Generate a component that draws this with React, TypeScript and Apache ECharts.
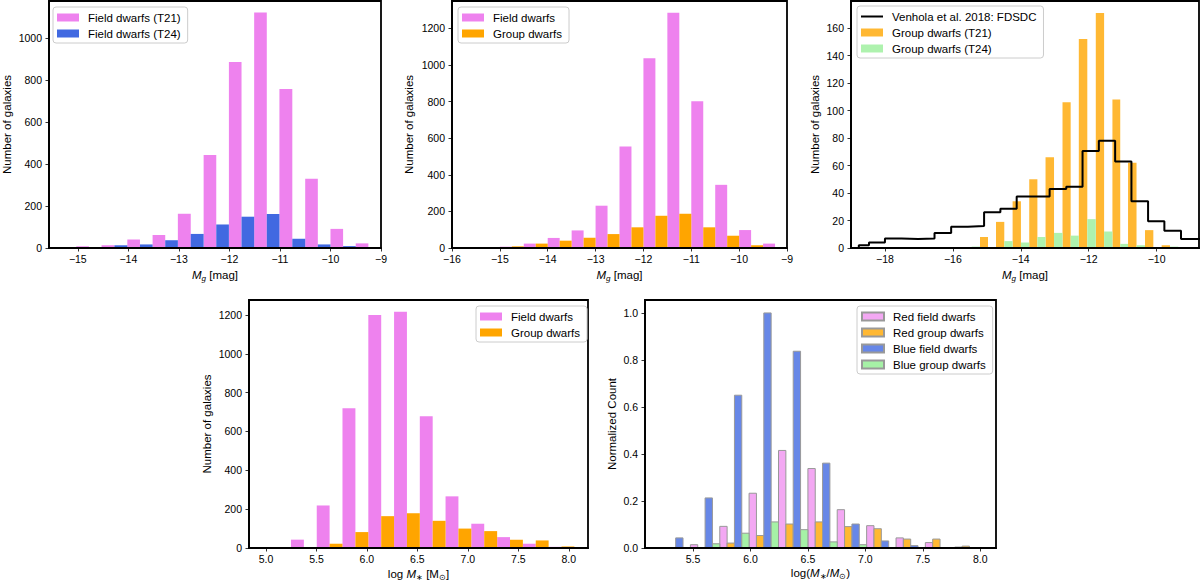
import React, { useEffect, useRef } from "react";
import * as echarts from "echarts";

// ---------- Panel 1: field dwarfs, g-band magnitude (T21 vs T24) ----------
const magEdgesA = [-15.03, -14.53, -14.02, -13.52, -13.02, -12.51, -12.01, -11.51, -11.01, -10.5, -10.0, -9.5, -9.0];
const fieldT21Counts = [8, 13, 40, 62, 163, 443, 886, 1121, 757, 330, 91, 22];
const fieldT24Counts = [0, 13, 17, 37, 67, 112, 149, 162, 44, 17, 9, 0];

// ---------- Panel 2: field vs group dwarfs, g-band magnitude ----------
const magEdgesB = [-15.0, -14.5, -14.0, -13.5, -13.0, -12.5, -12.0, -11.5, -11.0, -10.5, -10.0, -9.5, -9.0];
const fieldMagCounts = [7, 24, 55, 96, 231, 555, 1036, 1285, 802, 345, 98, 24];
const groupMagCounts = [9, 24, 40, 56, 76, 113, 176, 187, 113, 67, 15, 0];

// ---------- Panel 3: group dwarfs vs the Fornax Deep Survey dwarf catalogue ----------
const magEdgesC = [-15.69, -15.2, -14.73, -14.24, -13.75, -13.27, -12.77, -12.29, -11.79, -11.3, -10.84, -10.34, -9.85, -9.36];
const groupT21Counts = [0, 8, 19, 34, 50, 66, 106, 152, 171, 108, 62, 13, 2];
const groupT24Counts = [1, 0, 5, 4, 8, 11, 9, 21, 12, 3, 2, 0, 1];
const fdsdcEdges = [-18.77, -18.47, -18.0, -17.51, -17.02, -16.54, -16.05, -15.56, -15.08, -14.6, -14.12, -13.63, -13.15, -12.66, -12.18, -11.7, -11.22, -10.74, -10.25, -9.77, -9.28, -8.5];
const fdsdcCounts = [2, 4, 7, 6.5, 7, 11, 15.5, 16, 26, 28.5, 37.5, 37.5, 43, 44.5, 70.5, 78, 63, 34, 19.5, 12.5, 6.5];

// ---------- Panel 4: stellar mass, field vs group ----------
const massEdgesD = [4.993, 5.248, 5.503, 5.758, 6.014, 6.269, 6.524, 6.779, 7.034, 7.29, 7.545, 7.8, 8.055];
const fieldMassCounts = [0, 43, 219, 719, 1200, 1217, 679, 266, 125, 56, 22, 6];
const groupMassCounts = [0, 0, 22, 82, 164, 179, 140, 100, 87, 42, 39, 8];

// ---------- Panel 5: normalised stellar mass, red / blue split ----------
const massEdgesE = [5.221, 5.477, 5.733, 5.988, 6.244, 6.5, 6.755, 7.011, 7.267, 7.522, 7.778, 8.034];
const redFieldNorm = [0, 0.014, 0.092, 0.233, 0.415, 0.338, 0.163, 0.095, 0.043, 0.023, 0.004];
const redGroupNorm = [0, 0, 0.021, 0.053, 0.102, 0.111, 0.091, 0.082, 0.038, 0.038, 0.008];
const blueFieldNorm = [0.043, 0.213, 0.65, 1.0, 0.837, 0.361, 0.102, 0.03, 0.01, 0, 0];
const blueGroupNorm = [0, 0.018, 0.063, 0.111, 0.078, 0.026, 0.014, 0, 0, 0, 0];

// Tick positions
const ticksMagA = [-15, -14, -13, -12, -11, -10, -9];
const ticksMagB = [-16, -15, -14, -13, -12, -11, -10, -9];
const ticksMagC = [-18, -16, -14, -12, -10];
const ticksMassD = [5.0, 5.5, 6.0, 6.5, 7.0, 7.5, 8.0];
const ticksMassE = [5.5, 6.0, 6.5, 7.0, 7.5, 8.0];
const ticksCount1000 = [0, 200, 400, 600, 800, 1000];
const ticksCount1200 = [0, 200, 400, 600, 800, 1000, 1200];
const ticksCount160 = [0, 20, 40, 60, 80, 100, 120, 140, 160];
const ticksNorm = [0, 0.2, 0.4, 0.6, 0.8, 1.0];

const FONT = "'Liberation Sans', Arial, Helvetica, sans-serif";

const VIOLET = "#ee82ee";
const ROYAL = "#4169e1";
const ORANGE = "#ffa500";
const ORANGE_A = "#ffb833";
const GREEN_A = "#aef2ae";
const VIOLET_A = "#f3a8f3";
const ROYAL_A = "#6787e7";
const GREEN_B = "#a6f1a6";

const minusFmt = (v: number) => (v < 0 ? "\u2212" + Math.abs(v) : String(v));
const oneDec = (v: number) => v.toFixed(1);

type BarStyle = { color: string; borderColor?: string; borderWidth?: number };

// One histogram dataset drawn as side-by-side slot `slot` out of `slots` within each bin
function histSeries(name: string, grid: number, edges: number[], counts: number[], slot: number, slots: number, style: BarStyle) {
  const data: number[][] = [];
  counts.forEach((c, i) => {
    if (c <= 0) return;
    const w = edges[i + 1] - edges[i];
    data.push([edges[i] + (w * slot) / slots, edges[i] + (w * (slot + 1)) / slots, c]);
  });
  return {
    type: "custom",
    name,
    xAxisIndex: grid,
    yAxisIndex: grid,
    itemStyle: { color: style.color, borderColor: style.borderColor || style.color, borderWidth: style.borderWidth || 0 },
    encode: { x: [0, 1], y: 2 },
    data,
    z: 2,
    renderItem: (_params: any, api: any) => {
      const p0 = api.coord([api.value(0), 0]);
      const p1 = api.coord([api.value(1), api.value(2)]);
      return {
        type: "rect",
        shape: { x: p0[0], y: p1[1], width: p1[0] - p0[0], height: p0[1] - p1[1] },
        style: {
          fill: style.color,
          stroke: style.borderWidth ? style.borderColor : null,
          lineWidth: style.borderWidth || 0,
        },
      };
    },
  };
}

const richName = {
  it: { fontStyle: "italic", fontSize: 11.5, fontFamily: FONT, color: "#000", lineHeight: 14 },
  subi: { fontStyle: "italic", fontSize: 8, fontFamily: FONT, color: "#000", lineHeight: 9, verticalAlign: "bottom" },
  sub: { fontSize: 8, fontFamily: FONT, color: "#000", lineHeight: 9, verticalAlign: "bottom" },
};

function xAxis(grid: number, min: number, max: number, ticks: number[], fmt: (v: number) => string, name: string, nameGap: number) {
  return {
    type: "value",
    gridIndex: grid,
    min,
    max,
    name,
    nameLocation: "middle",
    nameGap,
    nameTextStyle: { fontSize: 11.5, fontFamily: FONT, color: "#000", lineHeight: 14, rich: richName },
    z: 5,
    axisLine: { show: true, onZero: false, lineStyle: { color: "#000", width: 1.8 } },
    axisTick: { show: true, customValues: ticks, length: 3.5, lineStyle: { color: "#000", width: 0.8 } },
    axisLabel: { customValues: ticks, formatter: fmt, color: "#000", fontSize: 10.5, fontFamily: FONT, margin: 5, showMinLabel: true, showMaxLabel: true },
    splitLine: { show: false },
  };
}

function yAxis(grid: number, max: number, ticks: number[], fmt: (v: number) => string, name: string, nameGap: number) {
  return {
    type: "value",
    gridIndex: grid,
    min: 0,
    max,
    name,
    nameLocation: "middle",
    nameGap,
    nameTextStyle: { fontSize: 11.5, fontFamily: FONT, color: "#000" },
    z: 5,
    axisLine: { show: true, onZero: false, lineStyle: { color: "#000", width: 1.8 } },
    axisTick: { show: true, customValues: ticks, length: 3.5, lineStyle: { color: "#000", width: 0.8 } },
    axisLabel: { customValues: ticks, formatter: fmt, color: "#000", fontSize: 10.5, fontFamily: FONT, margin: 7 },
    splitLine: { show: false },
  };
}

// Thin horizontal bar used as the legend key of a step line
const LINE_KEY = "path://M0,0H22V2H0Z";

function legend(left: number, top: number, names: string[], lineNames: string[] = []) {
  return {
    left,
    top,
    orient: "vertical",
    selectedMode: false,
    data: names.map((n) => (lineNames.includes(n) ? { name: n, icon: LINE_KEY, itemStyle: { color: "#000" } } : { name: n, icon: "rect" })),
    itemWidth: 22,
    itemHeight: 8,
    itemGap: 3,
    padding: [4, 7, 3, 4],
    backgroundColor: "rgba(255,255,255,0.8)",
    borderColor: "#cccccc",
    borderWidth: 1,
    borderRadius: 3,
    textStyle: { fontSize: 11.5, fontFamily: FONT, color: "#000", lineHeight: 13, padding: [0, 0, 0, 4] },
  };
}

function grid(left: number, top: number, width: number, height: number) {
  return { left, top, width, height, show: true, borderColor: "#000", borderWidth: 1.8, backgroundColor: "transparent" };
}

function buildOption() {
  const fdsdcLine: number[][] = [[fdsdcEdges[0], 0]];
  fdsdcCounts.forEach((v, i) => fdsdcLine.push([fdsdcEdges[i], v]));
  fdsdcLine.push([fdsdcEdges[fdsdcEdges.length - 1], fdsdcCounts[fdsdcCounts.length - 1]]);
  fdsdcLine.push([fdsdcEdges[fdsdcEdges.length - 1], 0]);

  const magName = "{it|M}{subi|g} [mag]";

  return {
    animation: false,
    backgroundColor: "#fff",
    textStyle: { fontFamily: FONT },
    grid: [
      grid(46, 1, 335, 247),
      grid(452, 1, 335, 247),
      grid(851, 1, 348, 247),
      grid(249, 300, 339, 249),
      grid(645, 300, 351, 248),
    ],
    xAxis: [
      xAxis(0, -15.57, -9.0, ticksMagA, minusFmt, magName, 20),
      xAxis(1, -16.0, -9.0, ticksMagB, minusFmt, magName, 20),
      xAxis(2, -19.0, -8.75, ticksMagC, minusFmt, magName, 20),
      xAxis(3, 4.832, 8.19, ticksMassD, oneDec, "log {it|M}{sub|\u2217} [M{sub|\u2299}]", 19),
      xAxis(4, 5.082, 8.137, ticksMassE, oneDec, "log({it|M}{sub|\u2217}/{it|M}{sub|\u2299})", 18),
    ],
    yAxis: [
      yAxis(0, 1176, ticksCount1000, String, "Number of galaxies", 36),
      yAxis(1, 1349, ticksCount1200, String, "Number of galaxies", 37),
      yAxis(2, 179.7, ticksCount160, String, "Number of galaxies", 30),
      yAxis(3, 1277, ticksCount1200, String, "Number of galaxies", 36),
      yAxis(4, 1.055, ticksNorm, oneDec, "Normalized Count", 27),
    ],
    legend: [
      legend(53, 7, ["Field dwarfs (T21)", "Field dwarfs (T24)"]),
      legend(458, 7, ["Field dwarfs", "Group dwarfs"]),
      legend(857, 6, ["Venhola et al. 2018: FDSDC", "Group dwarfs (T21)", "Group dwarfs (T24)"], ["Venhola et al. 2018: FDSDC"]),
      legend(476, 306, ["Field dwarfs", "Group dwarfs"]),
      legend(857, 306, ["Red field dwarfs", "Red group dwarfs", "Blue field dwarfs", "Blue group dwarfs"]),
    ],
    series: [
      histSeries("Field dwarfs (T21)", 0, magEdgesA, fieldT21Counts, 0, 2, { color: VIOLET }),
      histSeries("Field dwarfs (T24)", 0, magEdgesA, fieldT24Counts, 1, 2, { color: ROYAL }),

      histSeries("Field dwarfs", 1, magEdgesB, fieldMagCounts, 0, 2, { color: VIOLET }),
      histSeries("Group dwarfs", 1, magEdgesB, groupMagCounts, 1, 2, { color: ORANGE }),

      histSeries("Group dwarfs (T21)", 2, magEdgesC, groupT21Counts, 0, 2, { color: ORANGE_A }),
      histSeries("Group dwarfs (T24)", 2, magEdgesC, groupT24Counts, 1, 2, { color: GREEN_A }),
      {
        type: "line",
        name: "Venhola et al. 2018: FDSDC",
        xAxisIndex: 2,
        yAxisIndex: 2,
        step: "end",
        symbol: "none",
        showSymbol: false,
        clip: true,
        z: 4,
        lineStyle: { color: "#000", width: 2 },
        itemStyle: { color: "#000" },
        data: fdsdcLine,
      },

      histSeries("Field dwarfs", 3, massEdgesD, fieldMassCounts, 0, 2, { color: VIOLET }),
      histSeries("Group dwarfs", 3, massEdgesD, groupMassCounts, 1, 2, { color: ORANGE }),

      histSeries("Red field dwarfs", 4, massEdgesE, redFieldNorm, 0, 4, { color: VIOLET_A, borderColor: "#999", borderWidth: 1 }),
      histSeries("Red group dwarfs", 4, massEdgesE, redGroupNorm, 1, 4, { color: ORANGE_A, borderColor: "#999", borderWidth: 1 }),
      histSeries("Blue field dwarfs", 4, massEdgesE, blueFieldNorm, 2, 4, { color: ROYAL_A, borderColor: "#999", borderWidth: 1 }),
      histSeries("Blue group dwarfs", 4, massEdgesE, blueGroupNorm, 3, 4, { color: GREEN_B, borderColor: "#999", borderWidth: 1 }),
    ],
  };
}

export default function App() {
  const ref = useRef<HTMLDivElement>(null);
  useEffect(() => {
    document.body.style.margin = "0";
    const chart = echarts.init(ref.current as HTMLDivElement, null, { renderer: "svg" });
    chart.setOption(buildOption() as any);
    return () => chart.dispose();
  }, []);
  return <div ref={ref} style={{ position: "absolute", left: 0, top: 0, width: 1200, height: 582, background: "#fff" }} />;
}
